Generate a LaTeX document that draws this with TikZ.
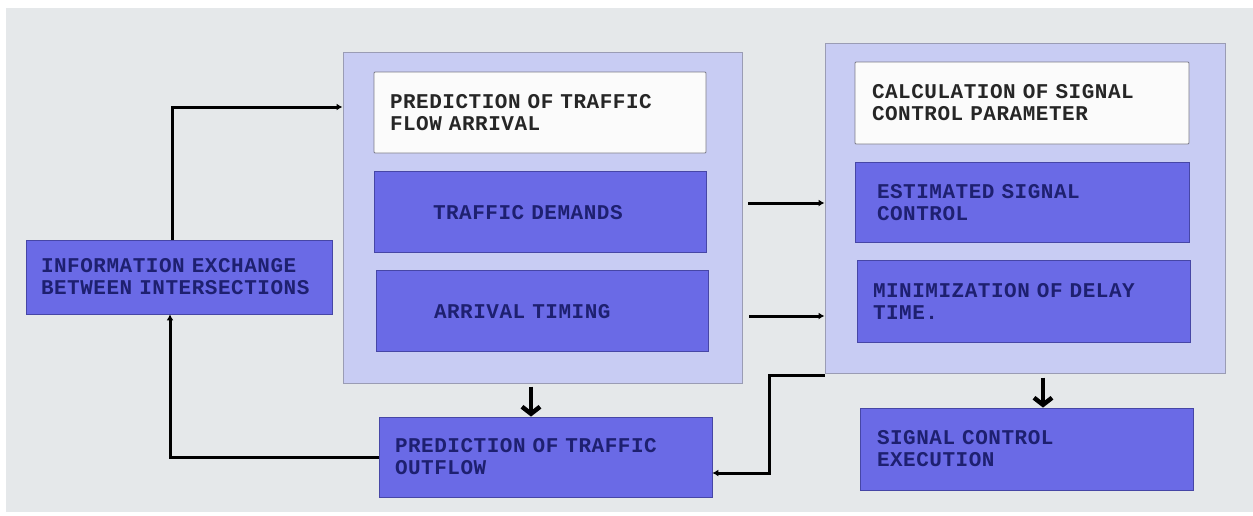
\documentclass[tikz,border=0pt]{standalone}
\usepackage{fontspec}
\setmonofont{Liberation Mono}[LetterSpace=2.5]
\usepackage{xcolor}
\usetikzlibrary{positioning, arrows.meta}

\definecolor{canvas}{HTML}{E5E8EA}
\definecolor{grpfill}{HTML}{C8CCF3}
\definecolor{grpline}{HTML}{9A9CB4}
\definecolor{blkfill}{HTML}{6A6AE6}
\definecolor{blkline}{HTML}{4646A6}
\definecolor{blktext}{HTML}{1E2070}
\definecolor{noteline}{HTML}{7C7C88}

\newcommand\boxfont{\ttfamily\bfseries\fontsize{21}{22}\selectfont}

\begin{document}
\begin{tikzpicture}[
    x=1pt, y=-1pt,
    font=\boxfont,
    node distance=18pt,
    grp/.style={
        draw=grpline, line width=1pt, fill=grpfill,
        inner sep=0pt,
    },
    blk/.style={
        draw=blkline, line width=0.8pt, fill=blkfill, text=blktext,
        align=left, inner xsep=16pt, inner ysep=2pt,
        minimum height=81pt,
    },
    note/.style={
        draw=noteline, line width=0.8pt, fill=white!97!gray, text=black!85,
        rounded corners=1pt, align=left, inner xsep=16pt, inner ysep=2pt,
        minimum height=81pt,
    },
    flow/.style={-{Latex[length=6pt,width=7pt]}, line width=3pt, draw=black},
    drop/.style={-{Straight Barb[length=7pt,width=18pt]}, line width=4.5pt, draw=black},
]

\useasboundingbox (0,0) rectangle (1253,515);
\fill[canvas] (6,8) rectangle (1253,512);

% the two groups
\node[grp, minimum width=399pt, minimum height=331pt] (grpA) at (542.5,217.5) {};
\node[grp, minimum width=400pt, minimum height=330pt] (grpB) at (1025,208) {};

% left group
\node[note, text width=300pt] (pfa) at (540,112.5) {PREDICTION OF TRAFFIC\\FLOW ARRIVAL};
\node[blk, inner xsep=59pt, text width=214pt, below=18pt of pfa] (td) {TRAFFIC DEMANDS};
\node[blk, inner xsep=58pt, text width=216pt, below=17pt of td, xshift=2pt] (at) {ARRIVAL TIMING};

% right group
\node[note, inner xsep=17pt, text width=300pt, minimum height=82pt] (calc) at (1022,103) {CALCULATION OF SIGNAL\\CONTROL PARAMETER};
\node[blk, inner xsep=22pt, text width=290pt, minimum height=80pt, below=of calc] (est) {ESTIMATED SIGNAL\\CONTROL};
\node[blk, text width=301pt, minimum height=82pt, below=17pt of est, xshift=1.5pt] (mini) {MINIMIZATION OF DELAY\\TIME.};

% outputs
\node[blk, text width=301pt, minimum height=80pt] (out) at (545.5,457) {PREDICTION OF TRAFFIC\\OUTFLOW};
\node[blk, inner xsep=17pt, text width=299pt, minimum height=82pt] (exec) at (1026.5,449) {SIGNAL CONTROL\\EXECUTION};
\node[blk, inner xsep=15pt, text width=276pt, minimum height=74pt] (info) at (179,277) {INFORMATION~EXCHANGE\\BETWEEN~INTERSECTIONS};

% connector guides
\coordinate (upx) at (172,107);
\coordinate (backx) at (170,457);
\coordinate (dropA) at (531,0);
\coordinate (dropB) at (1043,0);
\coordinate (linkA) at (748,203);
\coordinate (linkB) at (749,316);
\coordinate (jog) at (769,375);
\coordinate (jogdown) at (769,473);

\draw[flow] (info.north -| upx) -- (upx) -- (grpA.west |- upx);
\draw[flow] (out.west |- backx) -- (backx) -- (info.south -| backx);
\draw[flow] (linkA) -- (grpB.west |- linkA);
\draw[flow] (linkB) -- (grpB.west |- linkB);
\draw[flow] (grpB.west |- jog) -- (jog) -- (jogdown) -- (out.east |- jogdown);
\draw[drop] (grpA.south -| dropA) ++(0,3) -- (out.north -| dropA);
\draw[drop] (grpB.south -| dropB) ++(0,4) -- (exec.north -| dropB);

\end{tikzpicture}
\end{document}
